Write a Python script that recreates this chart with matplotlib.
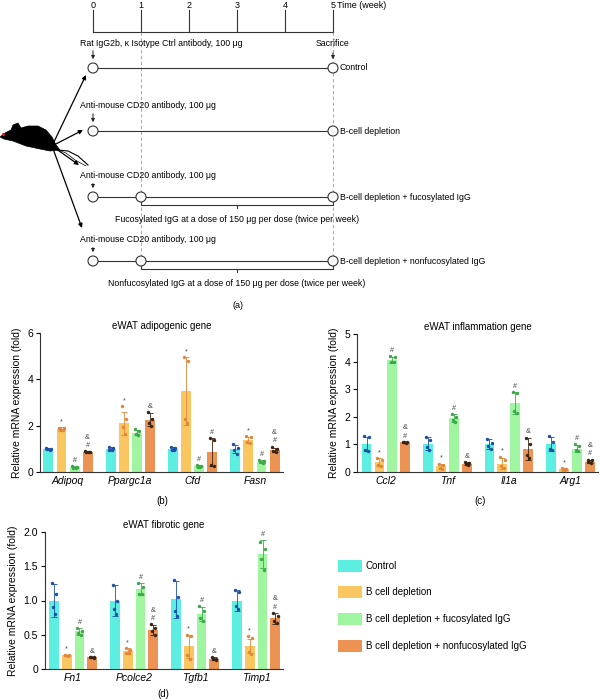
import matplotlib
matplotlib.use("Agg")
import matplotlib.pyplot as plt
from matplotlib.patches import Circle, Polygon, Rectangle
import numpy as np

plt.rcParams['font.family'] = ['Liberation Sans', 'DejaVu Sans']

# ---------------- data ----------------
weeks = [0, 1, 2, 3, 4, 5]
groups = ['Control', 'B cell depletion', 'B cell depletion + fucosylated IgG',
          'B cell depletion + nonfucosylated IgG']
bar_colors = ['#5DEEE2', '#F9C660', '#A0F5A0', '#EC9252']
dot_colors = ['#1D4FA8', '#E2873A', '#3DA84A', '#3A2414']

row_text = ['Rat IgG2b, \u03ba Isotype Ctrl antibody, 100 \u03bcg',
            'Anti-mouse CD20 antibody, 100 \u03bcg',
            'Anti-mouse CD20 antibody, 100 \u03bcg',
            'Anti-mouse CD20 antibody, 100 \u03bcg']
row_end = ['Control', 'B-cell depletion', 'B-cell depletion + fucosylated IgG',
           'B-cell depletion + nonfucosylated IgG']
row_igg_start = [None, None, 1, 1]
row_igg_text = [None, None,
                'Fucosylated IgG at a dose of 150 \u03bcg per dose (twice per week)',
                'Nonfucosylated IgG at a dose of 150 \u03bcg per dose (twice per week)']

# panel b: eWAT adipogenic gene
genes_b = ['Adipoq', 'Ppargc1a', 'Cfd', 'Fasn']
mean_b = [[1.0, 1.85, 0.2, 0.87],
          [1.0, 2.1, 1.7, 2.25],
          [1.0, 3.5, 0.25, 0.85],
          [1.0, 1.38, 0.45, 0.95]]
sd_b = [[0.04, 0.08, 0.04, 0.04],
        [0.07, 0.5, 0.12, 0.28],
        [0.06, 1.45, 0.05, 0.6],
        [0.18, 0.14, 0.05, 0.1]]
pts_b = [[[1.04, 1.01, 0.98, 0.97], [1.92, 1.88, 1.82, 1.8], [0.24, 0.2, 0.18, 0.17], [0.9, 0.88, 0.86, 0.85]],
         [[1.08, 1.05, 0.96, 0.93], [2.85, 2.3, 1.95, 1.65], [1.85, 1.75, 1.62, 1.6], [2.6, 2.3, 2.1, 2.0]],
         [[1.08, 1.02, 0.96, 0.95], [4.95, 4.8, 2.3, 2.1], [0.3, 0.25, 0.22, 0.2], [1.45, 1.4, 0.3, 0.28]],
         [[1.22, 1.05, 0.95, 0.78], [1.55, 1.5, 1.3, 1.25], [0.5, 0.46, 0.43, 0.4], [1.1, 1.0, 0.92, 0.88]]]
sig_b = [['', '*', '#', '#&'], ['', '*', '', '&'], ['', '*', '#', '#'], ['', '*', '#', '#&']]

# panel c: eWAT inflammation gene
genes_c = ['Ccl2', 'Tnf', 'Il1a', 'Arg1']
mean_c = [[1.02, 0.35, 4.05, 1.07],
          [1.02, 0.2, 1.95, 0.3],
          [1.0, 0.3, 2.5, 0.84],
          [1.02, 0.1, 0.85, 0.38]]
sd_c = [[0.26, 0.15, 0.1, 0.03],
        [0.24, 0.1, 0.14, 0.05],
        [0.18, 0.2, 0.4, 0.4],
        [0.25, 0.03, 0.12, 0.06]]
pts_c = [[[1.3, 1.26, 0.8, 0.76], [0.5, 0.45, 0.25, 0.2], [4.2, 4.16, 4.0, 3.98], [1.1, 1.08, 1.07, 1.05]],
         [[1.28, 1.15, 0.9, 0.78], [0.3, 0.25, 0.13, 0.1], [2.1, 2.0, 1.87, 1.8], [0.36, 0.32, 0.28, 0.25]],
         [[1.18, 1.05, 0.95, 0.82], [0.55, 0.45, 0.2, 0.15], [2.9, 2.85, 2.2, 2.15], [1.25, 1.0, 0.6, 0.5]],
         [[1.3, 1.1, 0.85, 0.8], [0.13, 0.1, 0.08, 0.08], [1.0, 0.95, 0.8, 0.75], [0.45, 0.42, 0.35, 0.32]]]
sig_c = [['', '*', '#', '#&'], ['', '*', '#', '&'], ['', '*', '#', '&'], ['', '*', '#', '#&']]

# panel d: eWAT fibrotic gene
genes_d = ['Fn1', 'Pcolce2', 'Tgfb1', 'Timp1']
mean_d = [[1.0, 0.2, 0.55, 0.17],
          [1.0, 0.26, 1.17, 0.57],
          [1.02, 0.33, 0.8, 0.15],
          [1.0, 0.34, 1.68, 0.74]]
sd_d = [[0.24, 0.01, 0.05, 0.01],
        [0.22, 0.04, 0.09, 0.07],
        [0.27, 0.17, 0.1, 0.02],
        [0.16, 0.1, 0.2, 0.08]]
pts_d = [[[1.25, 1.1, 0.9, 0.8], [0.21, 0.2, 0.2, 0.19], [0.6, 0.56, 0.52, 0.5], [0.18, 0.17, 0.17, 0.16]],
         [[1.22, 1.0, 0.88, 0.8], [0.3, 0.28, 0.24, 0.23], [1.25, 1.2, 1.1, 1.1], [0.65, 0.6, 0.55, 0.5]],
         [[1.3, 1.05, 0.85, 0.78], [0.5, 0.48, 0.2, 0.15], [0.92, 0.85, 0.75, 0.7], [0.17, 0.15, 0.14, 0.13]],
         [[1.15, 1.12, 0.92, 0.88], [0.48, 0.45, 0.25, 0.22], [1.85, 1.75, 1.6, 1.45], [0.82, 0.78, 0.7, 0.67]]]
sig_d = [['', '*', '#', '&'], ['', '*', '#', '#&'], ['', '*', '#', '&'], ['', '*', '#', '#&']]

# ---------------- figure ----------------
fig = plt.figure(figsize=(6, 7), dpi=100)

# overlay in pixel coordinates for schematic, labels, legend
ov = fig.add_axes([0, 0, 1, 1])
ov.set_xlim(0, 600)
ov.set_ylim(700, 0)
ov.axis('off')


def wx(w):
    return 93 + 48 * w


# time axis
ov.plot([wx(0), wx(5)], [32, 32], color='#333333', lw=0.8)
for w in weeks:
    ov.plot([wx(w), wx(w)], [10, 32], color='#333333', lw=0.8)
    ov.text(wx(w), 6, str(w), ha='center', va='center', fontsize=6.5)
ov.text(wx(5) + 4, 6, 'Time (week)', ha='left', va='center', fontsize=6.5)

for w in [1, 5]:
    ov.plot([wx(w), wx(w)], [32, 262], color='#999999', lw=0.6, ls=(0, (4, 3)))

row_y = [68, 131, 197, 261]
txt_y = [43, 106, 176, 240]
r = 5
for i in range(4):
    y = row_y[i]
    ov.text(80, txt_y[i], row_text[i], ha='left', va='center', fontsize=6.3)
    ov.annotate('', xy=(wx(0), y - r - 1), xytext=(wx(0), txt_y[i] + 5),
                arrowprops=dict(arrowstyle='-|>', color='#222222', lw=0.7,
                                mutation_scale=5))
    ov.plot([wx(0) + r, wx(5) - r], [y, y], color='#333333', lw=0.8)
    pos = [0, 5] if row_igg_start[i] is None else [0, row_igg_start[i], 5]
    for w in pos:
        ov.add_patch(Circle((wx(w), y), r, fc='white', ec='#333333', lw=0.8, zorder=3))
    ov.text(wx(5) + 7, y, row_end[i], ha='left', va='center', fontsize=6.3)
    if row_igg_start[i] is not None:
        s = wx(row_igg_start[i])
        e = wx(5)
        yb = y + 8
        ov.plot([s, s, e, e], [y + r, yb, yb, y + r], color='#333333', lw=0.8)
        ov.plot([(s + e) / 2] * 2, [yb, yb + 3], color='#333333', lw=0.8)
        ov.text((s + e) / 2, y + 22, row_igg_text[i], ha='center', va='center',
                fontsize=6.3)

ov.text(wx(5), 44, 'Sacrifice', ha='center', va='center', fontsize=6.3)
ov.annotate('', xy=(wx(5), row_y[0] - r - 1), xytext=(wx(5), 50),
            arrowprops=dict(arrowstyle='-|>', color='#222222', lw=0.7, mutation_scale=5))
ov.text(238, 306, '(a)', ha='center', va='center', fontsize=6.5)

# mouse silhouette
mouse = [(0, 137), (5, 133), (11, 130), (13, 125), (18, 123), (21, 128), (28, 126),
         (38, 126), (46, 130), (52, 137), (56, 145), (60, 150), (50, 151), (40, 149),
         (26, 146), (13, 141), (4, 139)]
ov.add_patch(Polygon(mouse, closed=True, fc='black', ec='black', lw=0.5))
ov.plot([58, 68, 78, 88], [150, 151, 156, 165], color='black', lw=0.8)
ov.plot([58, 66, 75, 86], [150, 153, 160, 166], color='black', lw=0.5)
ov.plot(3, 134, marker='o', ms=1.2, color='#cc2222')
for tip in [(86, 75), (83, 130), (79, 165), (82, 228)]:
    ov.annotate('', xy=tip, xytext=(52, 146),
                arrowprops=dict(arrowstyle='-|>', color='black', lw=0.9,
                                mutation_scale=6, shrinkA=0, shrinkB=0))

# panel labels and legend
ov.text(162, 501, '(b)', ha='center', va='center', fontsize=7)
ov.text(480, 501, '(c)', ha='center', va='center', fontsize=7)
ov.text(163, 694, '(d)', ha='center', va='center', fontsize=7)

leg_y = [566, 592, 619, 646]
for i in range(4):
    ov.add_patch(Rectangle((338, leg_y[i] - 6), 24, 12, fc=bar_colors[i], ec='none'))
    ov.text(366, leg_y[i], groups[i], ha='left', va='center', fontsize=7)


def px_axes(l, r_, t, b):
    return fig.add_axes([l / 600, 1 - b / 700, (r_ - l) / 600, (b - t) / 700])


def bar_panel(ax, genes, means, sds, pts, sigs, title, xlim, ylim, yticks, ylabels):
    off = [-0.315, -0.105, 0.105, 0.315]
    jit = [-0.035, 0.035, -0.02, 0.02]
    for g in range(len(genes)):
        for k in range(4):
            x = g + off[k]
            m = means[g][k]
            s = sds[g][k]
            ax.bar(x, m, width=0.16, color=bar_colors[k], zorder=1)
            ax.errorbar(x, m, yerr=s, fmt='none', ecolor=dot_colors[k], elinewidth=0.6,
                        capsize=2, capthick=0.6, zorder=2)
            ax.scatter([x + j for j in jit], pts[g][k], s=6, color=dot_colors[k],
                       zorder=3, linewidths=0)
            top = max(m + s, max(pts[g][k]))
            for n, ch in enumerate(sigs[g][k]):
                ax.annotate(ch, xy=(x, top), xytext=(0, 1.5 + n * 6),
                            textcoords='offset points', ha='center', va='bottom',
                            fontsize=5.2, color='#444444')
    ax.set_xlim(*xlim)
    ax.set_ylim(*ylim)
    ax.set_xticks(range(len(genes)))
    ax.set_xticklabels(genes, style='italic', fontsize=7.5)
    ax.set_yticks(yticks)
    ax.set_yticklabels(ylabels, fontsize=7.5)
    ax.tick_params(axis='x', length=0, pad=3)
    ax.tick_params(axis='y', length=3, width=0.8, pad=2)
    for sp in ['top', 'right']:
        ax.spines[sp].set_visible(False)
    for sp in ['left', 'bottom']:
        ax.spines[sp].set_linewidth(0.8)
        ax.spines[sp].set_color('#333333')
    ax.set_title(title, fontsize=7, pad=3)
    ax.set_ylabel('Relative mRNA expression (fold)', fontsize=7.5, labelpad=4)
    ax.patch.set_alpha(0)


axb = px_axes(40, 283, 333, 472)
bar_panel(axb, genes_b, mean_b, sd_b, pts_b, sig_b, 'eWAT adipogenic gene',
          (-0.45, 3.45), (0, 6), [0, 2, 4, 6], ['0', '2', '4', '6'])

axc = px_axes(357, 598, 334, 472)
bar_panel(axc, genes_c, mean_c, sd_c, pts_c, sig_c, 'eWAT inflammation gene',
          (-0.47, 3.45), (0, 5), [0, 1, 2, 3, 4, 5], ['0', '1', '2', '3', '4', '5'])

axd = px_axes(45, 283, 532, 669)
bar_panel(axd, genes_d, mean_d, sd_d, pts_d, sig_d, 'eWAT fibrotic gene',
          (-0.46, 3.44), (0, 2.0), [0, 0.5, 1.0, 1.5, 2.0], ['0', '0.5', '1.0', '1.5', '2.0'])

fig.savefig('out.png', dpi=100)
